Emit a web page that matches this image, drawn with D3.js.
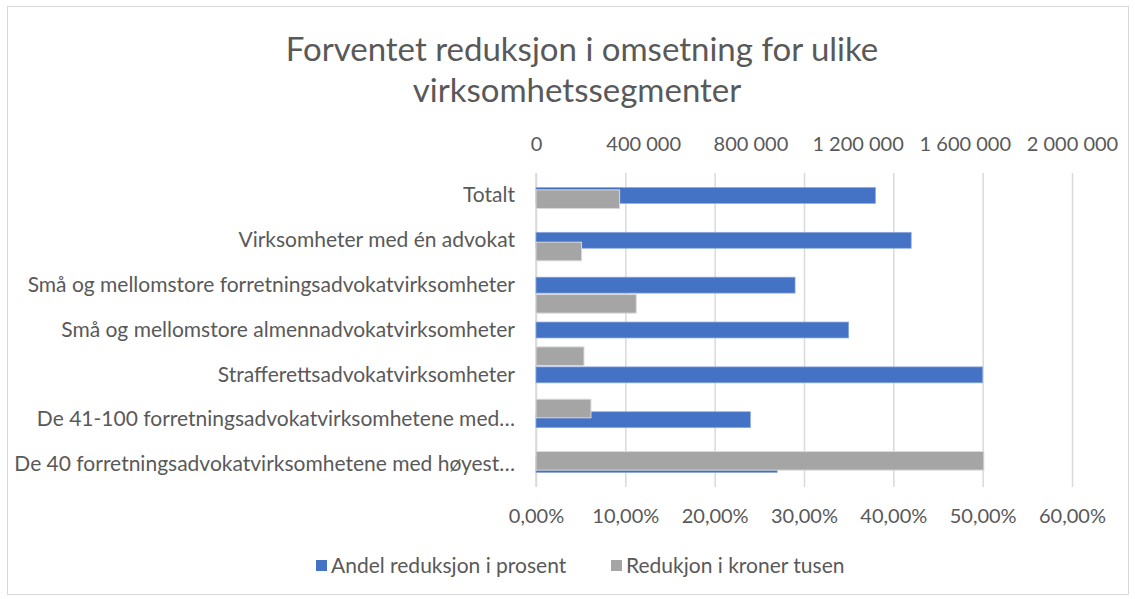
<!DOCTYPE html>
<html>
<head>
<meta charset="utf-8">
<script src="https://cdn.jsdelivr.net/npm/d3@7"></script>
<style>
	body { margin: 0; background: #fff; }
	text { font-family: Lato, "Open Sans", sans-serif; fill: #595959; }
</style>
</head>
<body>
<div id="chart"></div>
<script>
// data, top to bottom as shown
var categories = [
	"Totalt",
	"Virksomheter med én advokat",
	"Små og mellomstore forretningsadvokatvirksomheter",
	"Små og mellomstore almennadvokatvirksomheter",
	"Strafferettsadvokatvirksomheter",
	"De 41-100 forretningsadvokatvirksomhetene med…",
	"De 40 forretningsadvokatvirksomhetene med høyest…"
];
var andelProsent = [0.38, 0.42, 0.29, 0.35, 0.50, 0.24, 0.27];
// secondary series sits on its own (hidden) category axis with 6 slots
var kronerTusen = [312000, 170000, 374000, 179000, 205000, 1671000];
var pctTicks = [0, 0.1, 0.2, 0.3, 0.4, 0.5, 0.6];
var kronerTicks = [0, 400000, 800000, 1200000, 1600000, 2000000];
var seriesNames = ["Andel reduksjon i prosent", "Redukjon i kroner tusen"];
var seriesColors = ["#4472c4", "#a5a5a5"];

(function() {
	'use strict';

	var W = 1135, H = 599;
	var plotLeft = 536, plotRight = 1072, plotTop = 173, plotBottom = 487;

	var no = d3.formatLocale({ decimal: ",", thousands: "\u00a0", grouping: [3], currency: ["", " kr"] });
	var fmtKr = no.format(",.0f");
	var fmtPct = no.format(".2%");

	var svg = d3.select('#chart').append('svg')
		.attr('width', W)
		.attr('height', H);

	// chart border
	svg.append('rect')
		.attr('x', 7.5).attr('y', 6.5)
		.attr('width', 1121).attr('height', 588)
		.attr('fill', '#fff')
		.attr('stroke', '#d9d9d9');

	var x = d3.scaleLinear().domain([0, 0.6]).range([plotLeft, plotRight]);
	var x2 = d3.scaleLinear().domain([0, 2000000]).range([plotLeft, plotRight]);
	var y = d3.scaleBand().domain(categories).range([plotTop, plotBottom]).paddingInner(0.645).paddingOuter(0.3225);
	var y2 = d3.scaleBand().domain(d3.range(kronerTusen.length)).range([plotTop, plotBottom]).paddingInner(0.645).paddingOuter(0.3225);

	// title
	var title = svg.append('text')
		.attr('text-anchor', 'middle')
		.style('font-size', '33px');
	title.append('tspan').attr('x', 582).attr('y', 61).text('Forventet reduksjon i omsetning for ulike');
	title.append('tspan').attr('x', 577).attr('y', 102).text('virksomhetssegmenter');

	// gridlines (bottom axis with long ticks)
	var grid = svg.append('g')
		.attr('transform', 'translate(0,' + plotBottom + ')')
		.call(d3.axisBottom(x).tickValues(pctTicks).tickSize(-(plotBottom - plotTop)).tickFormat(''));
	grid.select('.domain').remove();
	grid.selectAll('line').attr('stroke', '#d9d9d9').attr('stroke-width', 1.5);

	// category axis line
	svg.append('line')
		.attr('x1', plotLeft).attr('x2', plotLeft)
		.attr('y1', plotTop).attr('y2', plotBottom)
		.attr('stroke', '#d9d9d9').attr('stroke-width', 1.5);

	// bottom axis labels
	var gx = svg.append('g')
		.attr('transform', 'translate(0,' + plotBottom + ')')
		.call(d3.axisBottom(x).tickValues(pctTicks).tickSize(0).tickPadding(22).tickFormat(fmtPct));
	gx.select('.domain').remove();
	gx.selectAll('text').style('font-size', '20px').attr('fill', '#595959');

	// top axis labels
	var gx2 = svg.append('g')
		.attr('transform', 'translate(0,' + plotTop + ')')
		.call(d3.axisTop(x2).tickValues(kronerTicks).tickSize(0).tickPadding(22).tickFormat(fmtKr));
	gx2.select('.domain').remove();
	gx2.selectAll('text').style('font-size', '20px').attr('fill', '#595959');

	// category labels
	var gy = svg.append('g')
		.attr('transform', 'translate(' + plotLeft + ',0)')
		.call(d3.axisLeft(y).tickSize(0).tickPadding(21));
	gy.select('.domain').remove();
	gy.selectAll('text').style('font-size', '21px').attr('fill', '#595959');

	// primary bars
	svg.append('g').selectAll('rect')
		.data(andelProsent)
		.join('rect')
		.attr('x', plotLeft)
		.attr('y', function(d, i) { return y(categories[i]); })
		.attr('width', function(d) { return x(d) - plotLeft; })
		.attr('height', y.bandwidth())
		.attr('fill', seriesColors[0])
		.attr('stroke', '#8faadc')
		.attr('stroke-width', 0.75);

	// secondary bars, drawn on top
	svg.append('g').selectAll('rect')
		.data(kronerTusen)
		.join('rect')
		.attr('x', plotLeft)
		.attr('y', function(d, i) { return y2(i); })
		.attr('width', function(d) { return x2(d) - plotLeft; })
		.attr('height', y2.bandwidth())
		.attr('fill', seriesColors[1])
		.attr('stroke', '#d9d9d9')
		.attr('stroke-width', 1);

	// legend
	var legendX = [316, 611];
	var lg = svg.append('g').selectAll('g')
		.data(seriesNames)
		.join('g')
		.attr('transform', function(d, i) { return 'translate(' + legendX[i] + ',560)'; });
	lg.append('rect')
		.attr('width', 11).attr('height', 11)
		.attr('fill', function(d, i) { return seriesColors[i]; });
	lg.append('text')
		.attr('x', 15).attr('y', 13)
		.style('font-size', '21px')
		.text(function(d) { return d; });
}());
</script>
</body>
</html>
